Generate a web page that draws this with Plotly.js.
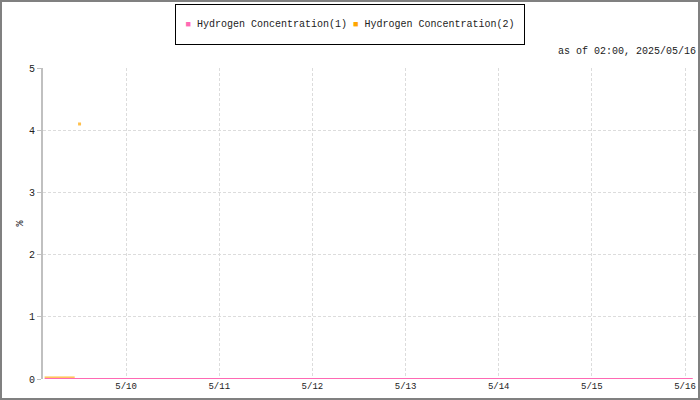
<!DOCTYPE html>
<html><head><meta charset="utf-8">
<script src="https://cdn.plot.ly/plotly-3.0.1.min.js"></script>
<style>
html,body{margin:0;padding:0;background:#fff;}
#chart{width:696px;height:396px;border:2px solid #808080;}
</style></head>
<body><div id="chart"></div>
<script>
var seriesNames = ['Hydrogen Concentration(1)', 'Hydrogen Concentration(2)'];
var seriesColors = ['#ff69b4', '#ffa500'];
var times1 = ['2025-05-09 03:00','2025-05-10 00:00','2025-05-11 00:00','2025-05-12 00:00','2025-05-13 00:00','2025-05-14 00:00','2025-05-15 00:00','2025-05-16 00:00','2025-05-16 02:00'];
var values1 = [0, 0, 0, 0, 0, 0, 0, 0, 0];
var times2 = ['2025-05-09 03:00','2025-05-09 04:00','2025-05-09 05:00','2025-05-09 06:00','2025-05-09 07:00','2025-05-09 08:00','2025-05-09 09:00','2025-05-09 10:00','2025-05-09 10:45','2025-05-09 11:30','2025-05-09 12:00','2025-05-09 12:30'];
var values2 = [0.03, 0.03, 0.03, 0.03, 0.03, 0.03, 0.03, 0.03, 0.03, null, 4.1, null];
var markerSizes2 = [0, 0, 0, 0, 0, 0, 0, 0, 0, 0, 3, 0];
var yTicks = [0, 1, 2, 3, 4, 5];
var xTickVals = ['2025-05-10','2025-05-11','2025-05-12','2025-05-13','2025-05-14','2025-05-15','2025-05-16'];
var xTickText = ['5/10','5/11','5/12','5/13','5/14','5/15','5/16'];
var asOfText = 'as of 02:00, 2025/05/16';
var yTitle = '%';

var font = 'Liberation Mono, DejaVu Sans Mono, monospace';
var traces = [
  {x: times2, y: values2, type: 'scatter', mode: 'lines+markers', name: seriesNames[1],
   line: {color: seriesColors[1], width: 1},
   marker: {color: seriesColors[1], size: markerSizes2, symbol: 'square', line: {width: 0}}, connectgaps: false, hoverinfo: 'skip'},
  {x: times1, y: values1, type: 'scatter', mode: 'lines', name: seriesNames[0],
   line: {color: seriesColors[0], width: 2}, cliponaxis: false, hoverinfo: 'skip'}
];
var legendText = '<span style="color:' + seriesColors[0] + ';font-size:9px">■</span> ' + seriesNames[0] +
  ' <span style="color:' + seriesColors[1] + ';font-size:9px">■</span> ' + seriesNames[1];
var layout = {
  width: 696, height: 396,
  margin: {l: 41, r: 0, t: 66, b: 19},
  paper_bgcolor: '#fff', plot_bgcolor: '#fff',
  font: {family: font, size: 10, color: '#222'},
  showlegend: false,
  xaxis: {type: 'date', range: ['2025-05-09 02:35', '2025-05-16 03:21'], tickvals: xTickVals, ticktext: xTickText,
    showgrid: true, gridcolor: '#dcdcdc', griddash: '3px,2px', gridwidth: 1, zeroline: false, showline: false,
    ticks: '', tickfont: {family: font, size: 9, color: '#222'}, fixedrange: true},
  yaxis: {range: [0, 5], tickvals: yTicks, ticktext: yTicks.map(String), showgrid: true, gridcolor: '#dcdcdc', griddash: '3px,2px',
    zeroline: false, showline: true, linecolor: '#c0c0c0', linewidth: 2, ticks: 'outside', ticklen: 4, tickcolor: '#c0c0c0',
    tickfont: {family: font, size: 10, color: '#222'},
    title: {text: yTitle, font: {family: font, size: 10, color: '#222'}, standoff: 3}, fixedrange: true},
  annotations: [
    {text: asOfText, xref: 'paper', yref: 'paper', x: 1, y: 1, xanchor: 'right', yanchor: 'bottom', yshift: 9,
     showarrow: false, font: {family: font, size: 10, color: '#222'}},
    {text: legendText, xref: 'paper', yref: 'paper', x: (350 - 43) / 655, y: (379 - 24) / 311, xanchor: 'center', yanchor: 'middle',
     width: 348, height: 39, align: 'center', valign: 'middle', borderpad: 0,
     bordercolor: '#000', borderwidth: 1, bgcolor: '#fff',
     showarrow: false, font: {family: font, size: 10, color: '#222'}}
  ]
};
Plotly.newPlot('chart', traces, layout, {displayModeBar: false, staticPlot: true});
</script></body></html>
